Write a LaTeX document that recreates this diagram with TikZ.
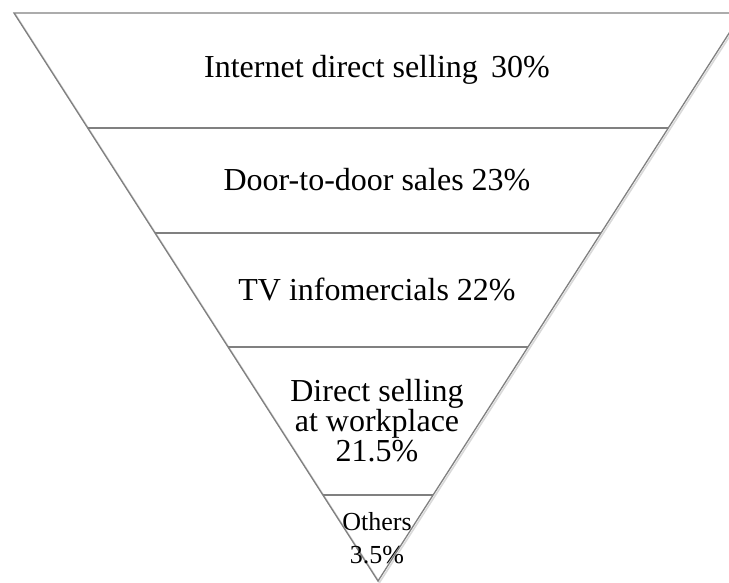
\documentclass[tikz,border=0pt]{standalone}
\usepackage{fontspec}
\setmainfont{Liberation Serif}
\usepackage{xcolor}
\usetikzlibrary{positioning, calc}

\begin{document}
\begin{tikzpicture}[
    x=1pt, y=-1pt,
    every node/.style={font=\fontsize{32}{30}\selectfont},
    edge/.style={
        draw=black!50,
        line width=1.3pt
    },
    shade/.style={
        draw=black!15,
        line width=1.6pt
    },
    label/.style={
        align=center,
        inner sep=0pt
    },
    small/.style={
        align=center,
        inner sep=0pt,
        font=\fontsize{26}{33}\selectfont
    }
]

\useasboundingbox (0,0) rectangle (729,583);
\clip (0,0) rectangle (729,583);

% Coins
\coordinate (tl) at (14,13);
\coordinate (tr) at (742,13);
\coordinate (apex) at (378,581);

% Bandes
\coordinate (l1) at ($(tl)!0.2025!(apex)$);
\coordinate (r1) at ($(tr)!0.2025!(apex)$);
\coordinate (l2) at ($(tl)!0.3873!(apex)$);
\coordinate (r2) at ($(tr)!0.3873!(apex)$);
\coordinate (l3) at ($(tl)!0.5880!(apex)$);
\coordinate (r3) at ($(tr)!0.5880!(apex)$);
\coordinate (l4) at ($(tl)!0.8486!(apex)$);
\coordinate (r4) at ($(tr)!0.8486!(apex)$);

% Ombre
\draw[shade] ([shift={(1.5,1.5)}]tl) -- ([shift={(1.5,1.5)}]apex) -- ([shift={(1.5,1.5)}]tr);

% Entonnoir
\draw[edge] (tl) -- (tr) -- (apex) -- cycle;
\draw[edge] (l1) -- (r1);
\draw[edge] (l2) -- (r2);
\draw[edge] (l3) -- (r3);
\draw[edge] (l4) -- (r4);

% Textes
\node[label] (internet) at (377,70) {Internet direct selling\, 30\%};
\node[label] (door) at (377,180) {Door-to-door sales 23\%};
\node[label] (tv) at (377,289) {TV infomercials 22\%};
\node[label] (work) at (377,421) {Direct selling\\at workplace\\21.5\%};
\node[small] (others) at (377,538) {Others\\3.5\%};

\end{tikzpicture}
\end{document}
